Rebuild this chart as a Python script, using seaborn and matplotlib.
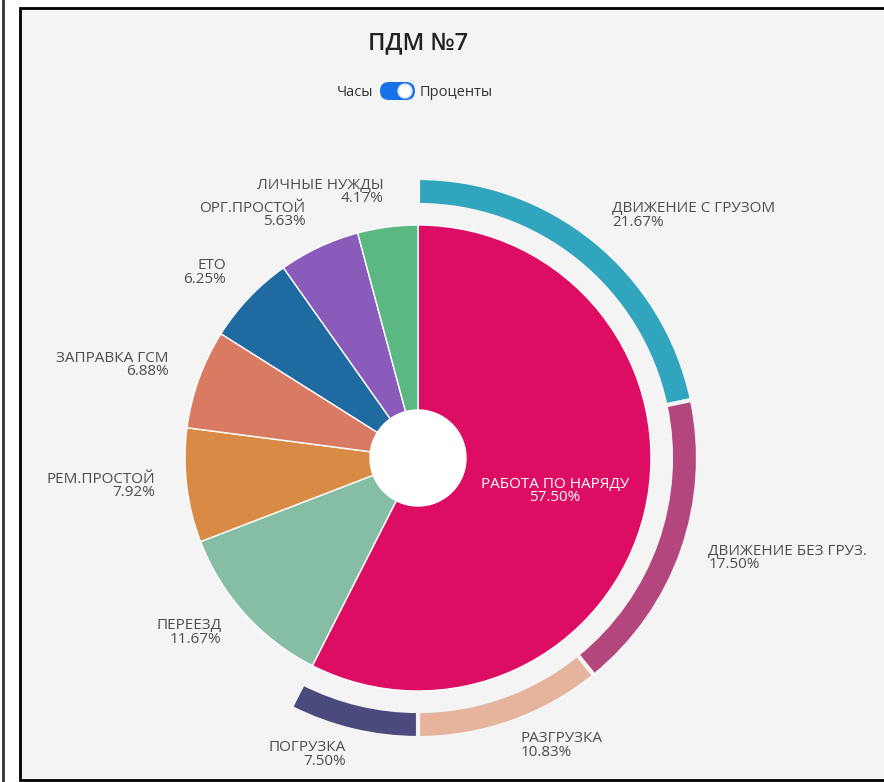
"""
ПДМ №7 — вложенная круговая диаграмма (часы работы, в процентах)
"""

import numpy as np
import matplotlib
matplotlib.use("Agg")
import matplotlib.pyplot as plt
from matplotlib.patches import Rectangle, FancyBboxPatch, Circle
import seaborn as sns

# ──────────────────────────────────────────────
# Data
# ──────────────────────────────────────────────
inner_labels = ["РАБОТА ПО НАРЯДУ", "ПЕРЕЕЗД", "РЕМ.ПРОСТОЙ", "ЗАПРАВКА ГСМ",
                "ЕТО", "ОРГ.ПРОСТОЙ", "ЛИЧНЫЕ НУЖДЫ"]
inner_values = [57.50, 11.67, 7.92, 6.88, 6.25, 5.63, 4.17]
inner_colors = ["#dc0d62", "#86bea5", "#d98b46", "#d97b63",
                "#1f6aa0", "#8a5bbb", "#5bb882"]

outer_labels = ["ДВИЖЕНИЕ С ГРУЗОМ", "ДВИЖЕНИЕ БЕЗ ГРУЗ.", "РАЗГРУЗКА", "ПОГРУЗКА"]
outer_values = [21.67, 17.50, 10.83, 7.50]
outer_colors = ["#30a5bd", "#b3467d", "#e6b39d", "#4b4a7d"]

title = "ПДМ №7"
toggle_left, toggle_right = "Часы", "Проценты"

# ──────────────────────────────────────────────
# Layout (pixels)
# ──────────────────────────────────────────────
W, H = 884, 782
CX, CY = 418, H - 458
R_IN, R_HOLE = 233, 48
R_OUT, RING_W = 280, 27
TEXT = "#4d4d4d"

sns.set_theme(style="white")
plt.rcParams["font.family"] = ["Open Sans", "DejaVu Sans"]

fig = plt.figure(figsize=(W / 100, H / 100), dpi=100, facecolor="white")
ax = fig.add_axes([0, 0, 1, 1])

# panel frame
ax.add_patch(Rectangle((20, 2), W, H - 10, facecolor="#f4f4f4",
                       edgecolor="black", linewidth=2, zorder=0))
ax.plot([3, 3], [0, H], color="#333333", linewidth=2, zorder=0)

# inner pie
ax.pie(inner_values, colors=inner_colors, startangle=90, counterclock=False,
       center=(CX, CY), radius=R_IN,
       wedgeprops=dict(width=R_IN - R_HOLE, edgecolor="white", linewidth=1))
ax.add_patch(Circle((CX, CY), R_HOLE, facecolor="white", edgecolor="none", zorder=3))

# outer ring (share of total)
ax.pie(np.array(outer_values) / 100, normalize=False, colors=outer_colors,
       startangle=90, counterclock=False, center=(CX, CY), radius=R_OUT,
       wedgeprops=dict(width=RING_W, edgecolor="#f4f4f4", linewidth=3))


def mid_angles(values, total):
    cum = np.cumsum(values) - np.array(values) / 2
    return np.deg2rad(90 - 360 * cum / total)


def put_labels(labels, values, total, r, skip_first=False):
    for i, (lab, val, a) in enumerate(zip(labels, values, mid_angles(values, total))):
        if skip_first and i == 0:
            continue
        x, y = CX + r * np.cos(a), CY + r * np.sin(a)
        ha = "left" if np.cos(a) > 0 else "right"
        ax.text(x, y + 3, f"{lab}\n{val:.2f}%", ha=ha, va="center", fontsize=11,
                color=TEXT, linespacing=0.85)


put_labels(inner_labels, inner_values, sum(inner_values), 265, skip_first=True)
put_labels(outer_labels, outer_values, 100, 308)

# label inside the main slice
a0 = mid_angles(inner_values, sum(inner_values))[0]
rm = (R_IN + R_HOLE) / 2
ax.text(CX + rm * np.cos(a0), CY + rm * np.sin(a0),
        f"{inner_labels[0]}\n{inner_values[0]:.2f}%",
        ha="center", va="center", fontsize=11, color="white", linespacing=0.85)

# title + toggle
ax.text(418, H - 43, title, ha="center", va="center", fontsize=17,
        fontweight="semibold", color="#222222")
ax.text(373, H - 92, toggle_left, ha="right", va="center", fontsize=10.5, color="#333333")
ax.text(420, H - 92, toggle_right, ha="left", va="center", fontsize=10.5, color="#333333")
ax.add_patch(FancyBboxPatch((380, H - 100), 35, 18, boxstyle="round,pad=0,rounding_size=9",
                            facecolor="#1672e6", edgecolor="none", zorder=3))
ax.add_patch(Circle((405, H - 91), 7, facecolor="white", edgecolor="#cfe0f7",
                    linewidth=1, zorder=4))

ax.set_xlim(0, W)
ax.set_ylim(0, H)
ax.set_aspect("equal")
ax.axis("off")

fig.savefig("out.png", dpi=100, facecolor="white")
plt.close(fig)
